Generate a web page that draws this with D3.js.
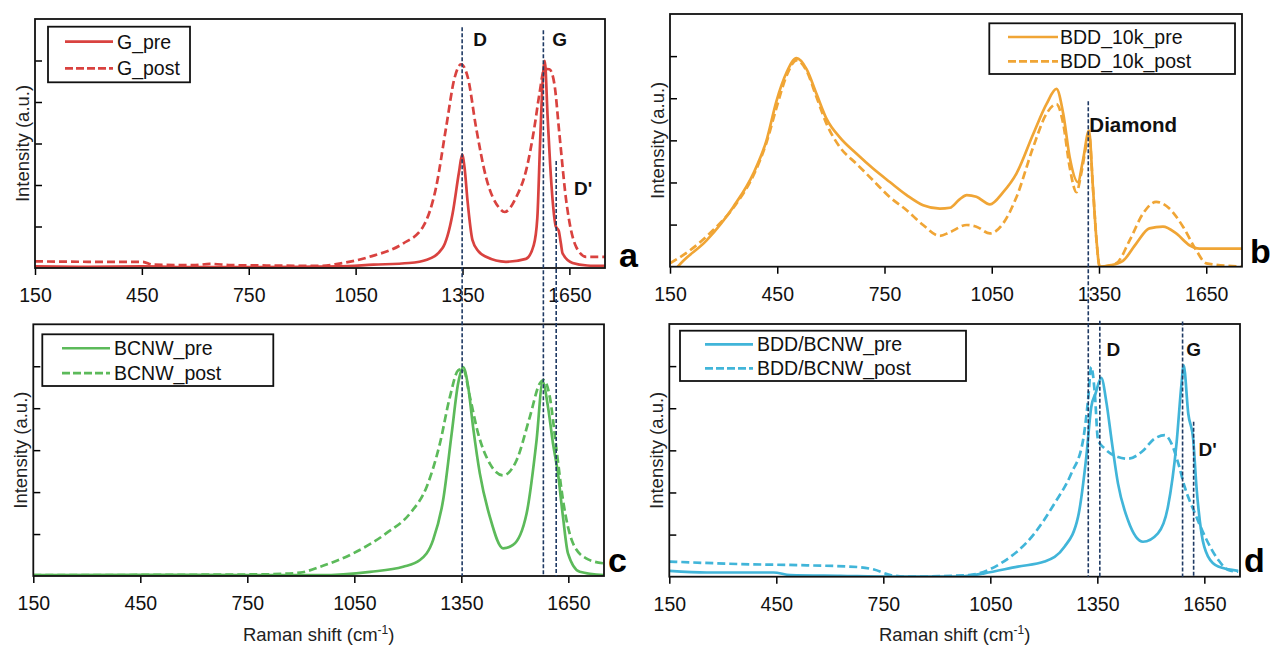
<!DOCTYPE html>
<html><head><meta charset="utf-8">
<script src="https://cdn.jsdelivr.net/npm/d3@7"></script>
<style>body{margin:0;background:#fff}svg{display:block;font-family:Arial,"Liberation Sans",sans-serif}</style>
</head><body><svg id="c" width="1271" height="645"></svg>
<script>
const xTicks = [150, 450, 750, 1050, 1350, 1650];
const yTicks = [1, 2, 3, 4, 5];
const xDomain = [150, 1750];
const yDomain = [0, 6];

const gPre = [[150,0.04],[300,0.03],[450,0.04],[600,0.02],[750,0.02],[900,0.03],[1000,0.04],[1100,0.08],[1200,0.12],[1250,0.2],[1294,0.48],[1322,1.3],[1340,2.3],[1349,2.73],[1356,2.4],[1364,1.63],[1378,0.67],[1395,0.4],[1416,0.27],[1472,0.15],[1528,0.22],[1550,0.55],[1560,1.2],[1568,3.07],[1575,4.5],[1581,4.99],[1589,3.63],[1596,2.5],[1603,1.63],[1612,1.0],[1620,0.9],[1626,0.6],[1631,0.35],[1659,0.12],[1700,0.06],[1750,0.05]];
const gPost = [[150,0.16],[300,0.15],[452,0.15],[480,0.08],[600,0.07],[641,0.1],[700,0.07],[800,0.06],[949,0.05],[1000,0.1],[1089,0.27],[1183,0.59],[1239,0.99],[1276,1.95],[1304,3.39],[1328,4.59],[1346,4.91],[1365,4.59],[1388,3.39],[1416,2.19],[1454,1.44],[1468,1.35],[1501,1.71],[1530,2.4],[1552,3.4],[1566,4.2],[1580,4.8],[1594,4.79],[1608,4.43],[1622,3.23],[1641,1.63],[1669,0.51],[1697,0.27],[1750,0.27]];
const bddPre = [[150,-0.25],[172,0],[253,0.63],[327,1.42],[383,2.21],[420,3.0],[448,3.94],[476,4.61],[504,4.95],[532,4.69],[560,4.1],[588,3.51],[625,3.07],[672,2.68],[718,2.33],[765,2.01],[812,1.7],[858,1.46],[905,1.38],[933,1.4],[960,1.6],[980,1.7],[1007,1.66],[1045,1.48],[1082,1.77],[1119,2.21],[1166,3.15],[1203,3.86],[1231,4.22],[1250,3.63],[1268,2.6],[1291,2.01],[1305,2.52],[1322,3.23],[1333,1.89],[1343,0.63],[1352,0],[1380,0.03],[1417,0.14],[1454,0.55],[1491,0.91],[1529,0.95],[1566,0.79],[1603,0.51],[1631,0.43],[1678,0.43],[1750,0.43]];
const bddPost = [[150,0.08],[206,0.39],[271,0.87],[336,1.5],[383,2.16],[420,2.95],[448,3.78],[476,4.53],[504,4.9],[532,4.65],[560,4.02],[588,3.39],[625,2.84],[672,2.44],[718,2.05],[765,1.65],[812,1.34],[858,0.99],[905,0.73],[933,0.82],[980,0.99],[1007,0.95],[1045,0.79],[1082,1.03],[1119,1.65],[1166,2.84],[1203,3.63],[1231,3.86],[1250,3.39],[1268,2.36],[1287,1.77],[1300,2.2],[1315,2.91],[1322,3.15],[1333,1.89],[1343,0.63],[1352,0],[1398,0.08],[1436,0.63],[1473,1.26],[1510,1.54],[1547,1.38],[1585,0.95],[1622,0.39],[1650,0.08],[1750,0]];
const bcnwPre = [[150,0.02],[450,0.03],[750,0.02],[954,0.02],[1094,0.1],[1187,0.22],[1234,0.38],[1271,0.86],[1299,1.81],[1323,3.4],[1341,4.59],[1355,4.98],[1369,4.52],[1383,3.55],[1402,2.44],[1430,1.41],[1467,0.66],[1495,0.74],[1533,1.49],[1561,3.24],[1578,4.63],[1593,4.03],[1607,3.16],[1621,2.44],[1635,1.41],[1649,0.54],[1682,0.1],[1750,0.02]];
const bcnwPost = [[150,0.02],[600,0.03],[800,0.04],[898,0.08],[954,0.22],[1047,0.54],[1140,1.02],[1206,1.49],[1253,2.13],[1290,3.16],[1318,4.27],[1341,4.9],[1355,4.94],[1374,4.27],[1397,3.4],[1430,2.68],[1467,2.4],[1505,2.76],[1542,3.79],[1570,4.59],[1581,4.67],[1598,4.27],[1617,3.0],[1635,1.81],[1663,0.78],[1700,0.42],[1750,0.3]];
const mixPre = [[150,0.14],[255,0.1],[442,0.1],[489,0.04],[630,0.02],[770,0],[958,0],[986,0.02],[1033,0.08],[1127,0.24],[1202,0.36],[1258,0.71],[1296,1.42],[1319,2.84],[1333,4.03],[1345,4.35],[1361,4.72],[1376,4.11],[1390,3.24],[1408,2.21],[1436,1.34],[1478,0.83],[1520,1.03],[1548,1.66],[1572,3.16],[1586,4.58],[1592,5.02],[1605,3.87],[1619,3.24],[1628,2.13],[1642,1.03],[1661,0.47],[1689,0.24],[1745,0.14]];
const mixPost = [[150,0.36],[349,0.3],[536,0.27],[677,0.23],[724,0.17],[770,0.04],[817,0],[990,0.04],[1080,0.32],[1174,1.03],[1230,1.74],[1277,2.45],[1310,3.24],[1324,4.19],[1333,4.98],[1343,4.35],[1352,3.24],[1371,3.04],[1408,2.84],[1436,2.8],[1474,2.96],[1511,3.28],[1539,3.36],[1558,3.16],[1577,2.69],[1595,2.13],[1624,1.5],[1652,0.95],[1689,0.4],[1717,0.16],[1745,0.12]];

const panelNames = ["a", "b", "c", "d"];
const seriesNames = [["G_pre","G_post"],["BDD_10k_pre","BDD_10k_post"],["BCNW_pre","BCNW_post"],["BDD/BCNW_pre","BDD/BCNW_post"]];
const seriesData = [[gPre,gPost],[bddPre,bddPost],[bcnwPre,bcnwPost],[mixPre,mixPost]];
const colors = ["#d9423f","#f0a535","#5cba5a","#41b5d9"];

// vertical marker lines: [label, x value, top panel, top value, bottom panel]
const markerLines = [
  ["D", 1349, 0, 5.8, 2],
  ["G", 1577, 0, 5.73, 2],
  ["D'", 1613, 0, 2.58, 2],
  ["Diamond", 1320, 1, 3.93, 3],
  ["D", 1357, 3, 6.08, 3],
  ["G", 1589, 3, 6.06, 3],
  ["D'", 1620, 3, 3.68, 3]
];
// marker labels: [panel, text, x value, y value]
const markerLabels = [
  [0, "D", 1380, 5.35], [0, "G", 1602, 5.35], [0, "D'", 1663, 1.75],
  [1, "Diamond", 1323, 3.2],
  [3, "D", 1376, 5.23], [3, "G", 1599, 5.23], [3, "D'", 1634, 2.86]
];

const svg = d3.select("#c");
const boxes = [
  {l:35, r:605, t:19, b:268},
  {l:670, r:1242, t:14, b:266.7},
  {l:33.3, r:604, t:324.3, b:576},
  {l:669.3, r:1240, t:324, b:576.7}
];
const legends = [
  {x:48, y:26.7, w:142, h:55.6, tx:117, l1:65, l2:113},
  {x:989.3, y:23.3, w:245.7, h:50.7, tx:1060, l1:1008, l2:1058},
  {x:42.3, y:334.3, w:231, h:51.7, tx:114, l1:62, l2:110},
  {x:680, y:330.7, w:286, h:50.3, tx:757, l1:705, l2:753}
];
const letterPos = [[619,267],[1250,263],[608,572],[1244,572]];

const scales = boxes.map(bx => ({
  x: d3.scaleLinear().domain(xDomain).range([bx.l, bx.r]),
  y: d3.scaleLinear().domain(yDomain).range([bx.b, bx.t])
}));

boxes.forEach((bx, i) => {
  const {x, y} = scales[i];
  const g = svg.append("g");
  g.append("clipPath").attr("id","clip"+i).append("rect")
    .attr("x",bx.l).attr("y",bx.t).attr("width",bx.r-bx.l).attr("height",bx.b-bx.t);

  const line = d3.line().x(d=>x(d[0])).y(d=>y(d[1])).curve(d3.curveMonotoneX);
  const cg = g.append("g").attr("clip-path","url(#clip"+i+")");
  seriesData[i].forEach((s, k) => {
    cg.append("path").datum(s).attr("d", line).attr("fill","none")
      .attr("stroke", colors[i]).attr("stroke-width", 2.7)
      .attr("stroke-linejoin","round")
      .attr("stroke-dasharray", k===1 ? "8,4" : null);
  });

  const xa = g.append("g").attr("transform",`translate(0,${bx.b})`)
    .call(d3.axisBottom(x).tickValues(xTicks).tickSize(7).tickPadding(13).tickFormat(d3.format("d")));
  xa.select(".domain").remove();
  xa.selectAll("line").attr("stroke","#000").attr("stroke-width",1.5);
  xa.selectAll("text").attr("font-size",19.5).attr("fill","#111").attr("font-family","Arial, 'Liberation Sans', sans-serif");
  const ya = g.append("g").attr("transform",`translate(${bx.l},0)`)
    .call(d3.axisRight(y).tickValues(yTicks).tickSize(7).tickFormat(""));
  ya.select(".domain").remove();
  ya.selectAll("line").attr("stroke","#000").attr("stroke-width",1.5);

  g.append("rect").attr("x",bx.l).attr("y",bx.t).attr("width",bx.r-bx.l).attr("height",bx.b-bx.t)
    .attr("fill","none").attr("stroke","#111").attr("stroke-width",1.8);

  g.append("text").attr("transform",`translate(${bx.l-6},${(bx.t+bx.b)/2}) rotate(-90)`)
    .attr("text-anchor","middle").attr("font-size",18.5).attr("fill","#222").text("Intensity (a.u.)");

  const lg = legends[i];
  g.append("rect").attr("x",lg.x).attr("y",lg.y).attr("width",lg.w).attr("height",lg.h)
    .attr("fill","#fff").attr("stroke","#111").attr("stroke-width",1.8);
  seriesNames[i].forEach((nm, k) => {
    const yy = lg.y + lg.h*(k===0 ? 0.27 : 0.75);
    g.append("line").attr("x1",lg.l1).attr("x2",lg.l2).attr("y1",yy).attr("y2",yy)
      .attr("stroke",colors[i]).attr("stroke-width",2.7).attr("stroke-dasharray", k===1 ? "8,3" : null);
    g.append("text").attr("x",lg.tx).attr("y",yy+7).attr("font-size",19.5).attr("fill","#111").text(nm);
  });

  g.append("text").attr("x",letterPos[i][0]).attr("y",letterPos[i][1]).attr("font-size",34)
    .attr("font-weight","bold").attr("fill","#000").text(panelNames[i]);
});

[2,3].forEach(i => {
  const bx = boxes[i];
  const t = svg.append("text").attr("x",(bx.l+bx.r)/2).attr("y",641).attr("text-anchor","middle")
    .attr("font-size",18.5).attr("fill","#222");
  t.append("tspan").text("Raman shift (cm");
  t.append("tspan").attr("dy",-7).attr("font-size",12).text("-1");
  t.append("tspan").attr("dy",7).text(")");
});

markerLines.forEach(([lab, xv, tp, tv, bp]) => {
  const xx = scales[tp].x(xv);
  svg.append("line").attr("x1",xx).attr("x2",xx)
    .attr("y1",scales[tp].y(tv)).attr("y2",scales[bp].y(0))
    .attr("stroke","#1f3a64").attr("stroke-width",1.6).attr("stroke-dasharray","4,2");
});
markerLabels.forEach(([p, txt, xv, yv]) => {
  svg.append("text").attr("x",scales[p].x(xv)).attr("y",scales[p].y(yv))
    .attr("font-size", txt==="Diamond" ? 20.5 : 19).attr("font-weight","bold").attr("fill","#111").text(txt);
});
</script></body></html>
